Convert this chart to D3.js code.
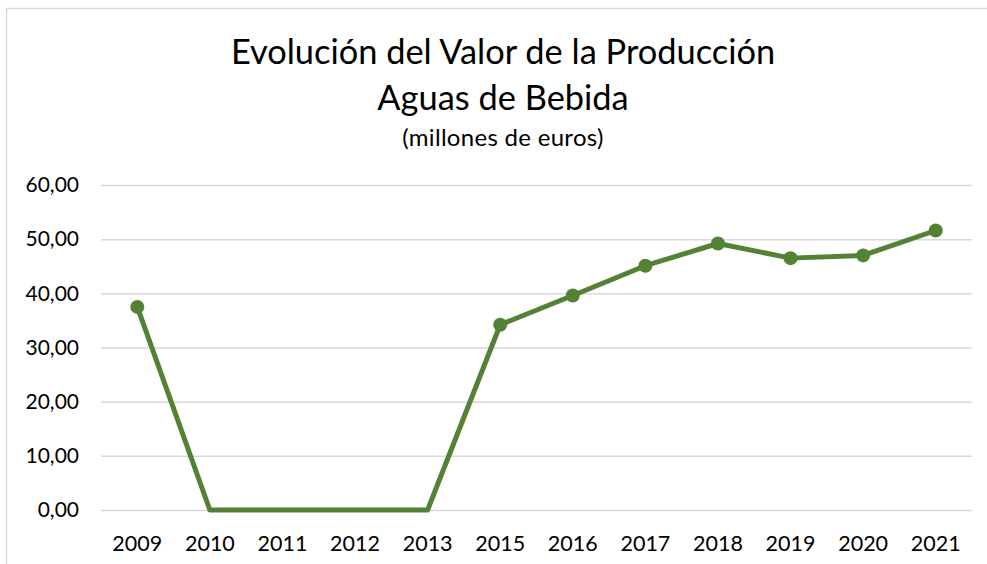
<!DOCTYPE html>
<html>
<head>
<meta charset="utf-8">
<script src="https://cdn.jsdelivr.net/npm/d3@7"></script>
<style>
  body { margin: 0; background: #fff; }
  svg { display: block; font-family: Lato, "Open Sans", sans-serif; }
</style>
</head>
<body>
<svg class="chart"></svg>
<script>
const years = ['2009', '2010', '2011', '2012', '2013', '2015', '2016', '2017', '2018', '2019', '2020', '2021'];
const values = [37.5, 0, 0, 0, 0, 34.2, 39.6, 45.1, 49.2, 46.5, 47.0, 51.6];
const yTicks = [0, 10, 20, 30, 40, 50, 60];
const titleLines = ['Evolución del Valor de la Producción', 'Aguas de Bebida'];
const subtitle = '(millones de euros)';

function draw() {
  const width = 987;
  const height = 564;
  const margin = { top: 185, bottom: 54, right: 15, left: 101 };
  const innerWidth = width - margin.left - margin.right;
  const innerHeight = height - margin.top - margin.bottom;

  const svg = d3.select('.chart')
    .attr('width', width)
    .attr('height', height);

  // chart frame
  svg.append('rect')
    .attr('x', 6.5)
    .attr('y', 8.5)
    .attr('width', 1000)
    .attr('height', 600)
    .attr('fill', 'none')
    .attr('stroke', '#d9d9d9')
    .attr('stroke-width', 1.5);

  svg.selectAll('text.title')
    .data(titleLines)
    .enter()
    .append('text')
    .attr('class', 'title')
    .attr('x', 503)
    .attr('y', (d, i) => 64 + i * 46)
    .attr('text-anchor', 'middle')
    .attr('font-size', '34.4px')
    .attr('fill', '#000')
    .text(d => d);

  svg.append('text')
    .attr('x', 503)
    .attr('y', 146)
    .attr('text-anchor', 'middle')
    .attr('font-size', '24px')
    .attr('letter-spacing', '0.3px')
    .attr('fill', '#000')
    .text(subtitle);

  const g = svg.append('g')
    .attr('transform', `translate(${margin.left}, ${margin.top})`);

  const x = d3.scaleBand().domain(years).range([0, innerWidth]);
  const y = d3.scaleLinear().domain([0, 60]).range([innerHeight, 0]);

  const fmt = v => d3.format('.2f')(v).replace('.', ',');

  const yAxis = g.append('g')
    .call(d3.axisLeft(y).tickValues(yTicks).tickSize(-innerWidth).tickFormat(fmt));
  yAxis.select('.domain').remove();
  yAxis.selectAll('.tick line').attr('stroke', '#d9d9d9').attr('stroke-width', 1.5);
  yAxis.selectAll('.tick text')
    .attr('x', -22)
    .attr('font-size', '21px')
    .attr('font-family', 'Lato, sans-serif')
    .attr('fill', '#000');

  const xAxis = g.append('g')
    .attr('transform', `translate(0, ${innerHeight})`)
    .call(d3.axisBottom(x).tickSize(0));
  xAxis.select('.domain').remove();
  xAxis.selectAll('.tick text')
    .attr('dy', '1.75em')
    .attr('font-size', '21.5px')
    .attr('font-family', 'Lato, sans-serif')
    .attr('fill', '#000');

  const points = values.map((v, i) => ({ year: years[i], value: v }));
  const cx = d => x(d.year) + x.bandwidth() / 2;

  const line = d3.line()
    .x(cx)
    .y(d => y(d.value));

  g.append('path')
    .datum(points)
    .attr('d', line)
    .attr('fill', 'none')
    .attr('stroke', '#548235')
    .attr('stroke-width', 5)
    .attr('stroke-linejoin', 'round');

  // Excel shows no markers on the zero years
  g.selectAll('circle')
    .data(points.filter(d => d.value > 0))
    .enter()
    .append('circle')
    .attr('cx', cx)
    .attr('cy', d => y(d.value))
    .attr('r', 7)
    .attr('fill', '#548235');
}

draw();
</script>
</body>
</html>
